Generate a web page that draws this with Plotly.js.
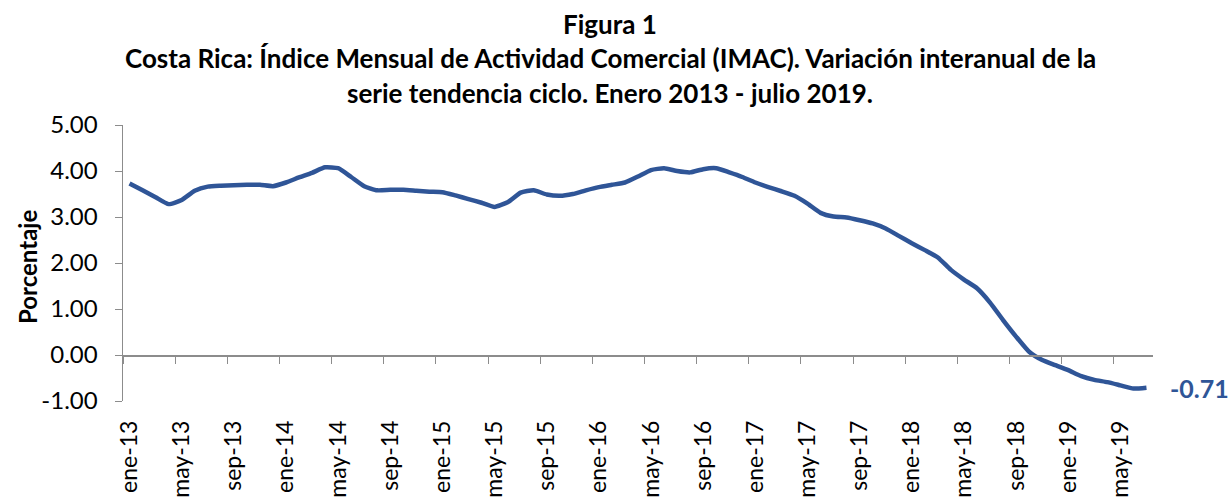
<!DOCTYPE html>
<html>
<head>
<meta charset="utf-8">
<script src="https://cdn.plot.ly/plotly-3.0.1.min.js"></script>
<style>
html,body{margin:0;padding:0;background:#fff;}
#chart{width:1232px;height:501px;}
</style>
</head>
<body>
<div id="chart"></div>
<script>
// ---- data ----
const meses = ['ene','feb','mar','abr','may','jun','jul','ago','sep','oct','nov','dic'];
const anios = ['13','14','15','16','17','18','19'];
const variacion = [
  3.73, 3.58, 3.43, 3.28, 3.37, 3.57, 3.66, 3.68, 3.69, 3.70, 3.70, 3.67,
  3.75, 3.86, 3.96, 4.08, 4.06, 3.87, 3.67, 3.58, 3.59, 3.59, 3.57, 3.55,
  3.54, 3.47, 3.39, 3.31, 3.22, 3.32, 3.53, 3.58, 3.49, 3.46, 3.50, 3.58,
  3.65, 3.70, 3.75, 3.88, 4.02, 4.06, 4.00, 3.97, 4.04, 4.06, 3.97, 3.87,
  3.75, 3.65, 3.56, 3.46, 3.29, 3.09, 3.01, 2.99, 2.93, 2.86, 2.75, 2.59,
  2.43, 2.28, 2.12, 1.85, 1.64, 1.45, 1.14, 0.76, 0.40, 0.07, -0.11, -0.22,
  -0.33, -0.46, -0.54, -0.59, -0.66, -0.73, -0.71
];
const tickLabels = ['ene-13','may-13','sep-13','ene-14','may-14','sep-14','ene-15','may-15',
  'sep-15','ene-16','may-16','sep-16','ene-17','may-17','sep-17','ene-18','may-18','sep-18',
  'ene-19','may-19'];
const yTicks = [-1, 0, 1, 2, 3, 4, 5];
const yTickText = ['-1.00', '0.00', '1.00', '2.00', '3.00', '4.00', '5.00'];
const ultimoValor = '-0.71';
const tituloLineas = ['Figura 1',
  'Costa Rica: Índice Mensual de Actividad Comercial (IMAC). Variación interanual de la',
  'serie tendencia ciclo. Enero 2013 - julio 2019.'];

// ---- build ----
const periodos = [];
anios.forEach(a => meses.forEach(m => periodos.push(m + '-' + a)));
const n = variacion.length;
const xIdx = variacion.map((_, i) => i);
const labelIdx = tickLabels.map(t => periodos.indexOf(t));
const boundaryTicks = [];
for (let b = -0.5; b < n - 1; b += 4) boundaryTicks.push(b);

const FONT = 'Lato, "Liberation Sans", Arial, sans-serif';
const BLUE = '#2F5597';
const GRAY = '#8c8c8c';
const xr = [-0.5, n - 0.5];
const px = v => (v - 123) / 1030;      // page x -> paper x
const py = v => (401 - v) / 276;       // page y -> paper y

const traces = [
  {x: xIdx, y: variacion, type: 'scatter', mode: 'lines',
   line: {color: BLUE, width: 4.5, shape: 'spline', smoothing: 0.5},
   hoverinfo: 'x+y', text: periodos},
  {x: [0], y: [0], xaxis: 'x2', yaxis: 'y', mode: 'none', type: 'scatter', hoverinfo: 'skip'}
];

const titleAnn = tituloLineas.map((t, k) => ({
  xref: 'paper', yref: 'paper', x: px(610), y: py([24, 58.5, 92.5][k]),
  text: '<b>' + t + '</b>', showarrow: false, xanchor: 'center', yanchor: 'middle',
  font: {family: FONT, size: 26, color: '#000'}
}));

const layout = {
  width: 1232, height: 501,
  margin: {l: 123, r: 79, t: 125, b: 100, pad: 0},
  paper_bgcolor: '#fff', plot_bgcolor: '#fff',
  showlegend: false,
  font: {family: FONT, color: '#000'},
  xaxis: {
    range: xr, tickvals: labelIdx, ticktext: tickLabels, tickangle: -90,
    ticks: '', showline: false, showgrid: false, zeroline: false,
    tickfont: {family: FONT, size: 23, color: '#000'},
    ticklabelstandoff: 14, fixedrange: true
  },
  xaxis2: {
    overlaying: 'x', anchor: 'free', position: 1/6, side: 'bottom',
    range: xr, tickvals: boundaryTicks, showticklabels: false,
    ticks: 'outside', ticklen: 7, tickcolor: GRAY, tickwidth: 1,
    showline: true, linecolor: GRAY, linewidth: 1.5,
    showgrid: false, zeroline: false, fixedrange: true
  },
  yaxis: {
    range: [-1, 5], tickvals: yTicks, ticktext: yTickText,
    ticks: 'outside', ticklen: 7, tickcolor: GRAY, tickwidth: 1,
    showline: true, linecolor: GRAY, linewidth: 1.5,
    showgrid: false, zeroline: false,
    tickfont: {family: FONT, size: 24, color: '#000'},
    ticklabelstandoff: 12, fixedrange: true
  },
  annotations: titleAnn.concat([
    {xref: 'paper', yref: 'paper', x: px(27), y: py(267),
     text: '<b>Porcentaje</b>', textangle: -90, showarrow: false, xanchor: 'center', yanchor: 'middle',
     font: {family: FONT, size: 24, color: '#000'}},
    {xref: 'x', yref: 'y', x: n - 1, y: variacion[n - 1], xshift: 22,
     text: '<b>' + ultimoValor + '</b>', showarrow: false, xanchor: 'left', yanchor: 'middle',
     font: {family: FONT, size: 25, color: BLUE}}
  ])
};

Plotly.newPlot('chart', traces, layout, {displayModeBar: false, staticPlot: true});
</script>
</body>
</html>
